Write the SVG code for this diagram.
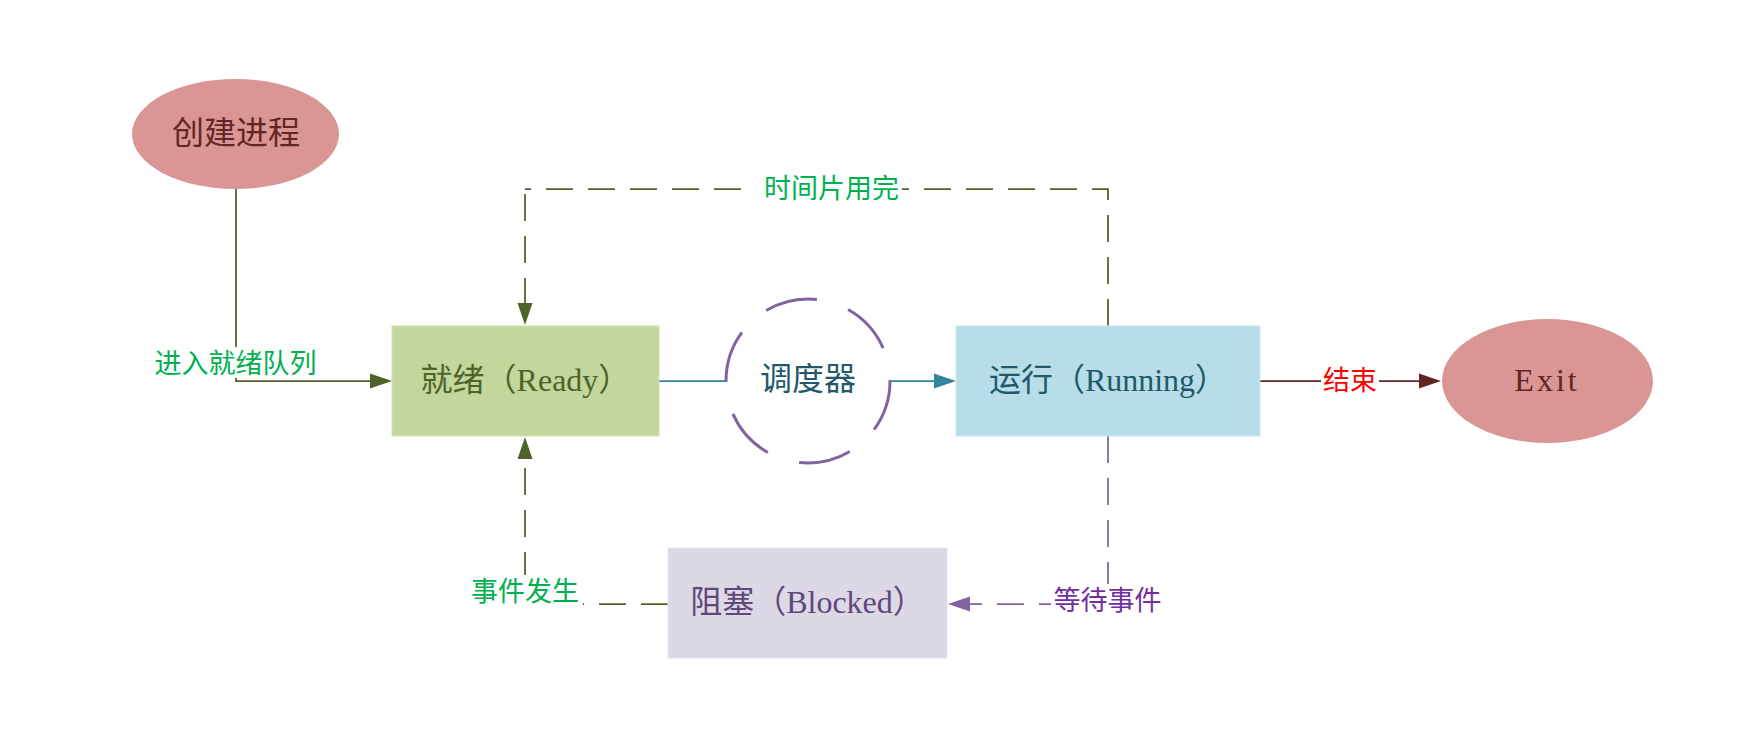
<svg xmlns="http://www.w3.org/2000/svg" width="1743" height="754" viewBox="0 0 1743 754">
<style>
  text { font-family: "Liberation Serif", "Noto Sans CJK SC", serif; }
  .node { font-size: 32px; text-anchor: middle; }
  .lbl { font-size: 27px; text-anchor: middle; }
  .bg { fill: #ffffff; }
  .olive { stroke: #4f6228; }
  .teal { stroke: #31849b; }
  .purple { stroke: #8064a2; }
  .dred { stroke: #632523; }
  .ln { fill: none; stroke-width: 1.75; }
  .dash { stroke-dasharray: 27 15; }
</style>
<defs>
  <marker id="aOlive" markerUnits="userSpaceOnUse" markerWidth="22" markerHeight="16" refX="0" refY="8" orient="auto" overflow="visible">
    <path d="M0,0.5 L22,8 L0,15.5 z" fill="#4f6228"/>
  </marker>
  <marker id="aTeal" markerUnits="userSpaceOnUse" markerWidth="22" markerHeight="16" refX="0" refY="8" orient="auto" overflow="visible">
    <path d="M0,0.5 L22,8 L0,15.5 z" fill="#31849b"/>
  </marker>
  <marker id="aPurple" markerUnits="userSpaceOnUse" markerWidth="22" markerHeight="16" refX="0" refY="8" orient="auto" overflow="visible">
    <path d="M0,0.5 L22,8 L0,15.5 z" fill="#8064a2"/>
  </marker>
  <marker id="aDred" markerUnits="userSpaceOnUse" markerWidth="22" markerHeight="16" refX="0" refY="8" orient="auto" overflow="visible">
    <path d="M0,0.5 L22,8 L0,15.5 z" fill="#632523"/>
  </marker>
</defs>
<rect width="1743" height="754" fill="#ffffff"/>

<g id="connectors">
  <path class="ln olive" d="M236,189 V381 H370" marker-end="url(#aOlive)"/>
  <path class="ln teal" d="M659,381 H726"/>
  <path class="ln teal" d="M891,381 H934" marker-end="url(#aTeal)"/>
  <path class="ln olive dash" d="M1108,326 V189 H525"/>
  <path class="ln olive dash" d="M525,189 V303" stroke-dashoffset="-5" marker-end="url(#aOlive)"/>
  <path class="ln purple dash" d="M1108,436 V604 H970" marker-end="url(#aPurple)"/>
  <path class="ln olive dash" d="M668,604 H525 V459" marker-end="url(#aOlive)"/>
  <path class="ln dred" d="M1260,381 H1419" marker-end="url(#aDred)"/>

  <g id="label-enqueue">
    <rect class="bg" x="150" y="347" width="171" height="31"/>
    <text class="lbl" x="235.5" y="372.5" fill="#00b050">进入就绪队列</text>
  </g>
  <g id="label-timeslice">
    <rect class="bg" x="744" y="175" width="158" height="28"/>
    <text class="lbl" x="831.5" y="197.5" fill="#00b050">时间片用完</text>
  </g>
  <g id="label-event">
    <rect class="bg" x="469" y="575" width="114" height="33"/>
    <text class="lbl" x="525" y="600.5" fill="#00b050">事件发生</text>
  </g>
  <g id="label-wait">
    <rect class="bg" x="1051" y="584" width="116" height="30"/>
    <text class="lbl" x="1107.5" y="609.5" fill="#7030a0">等待事件</text>
  </g>
  <g id="label-end">
    <rect class="bg" x="1321" y="367" width="58" height="28"/>
    <text class="lbl" x="1350" y="390" fill="#ff0000">结束</text>
  </g>
</g>

<g id="node-create">
  <ellipse cx="235.5" cy="134" rx="103.5" ry="55" fill="#d99694"/>
  <text class="node" x="236" y="144" fill="#632523">创建进程</text>
</g>

<g id="node-ready">
  <rect x="392" y="326" width="267" height="110" fill="#c3d69b" stroke="#d2e0b4" stroke-width="1"/>
  <text class="node" x="525.5" y="391" fill="#4f6228">就绪（Ready）</text>
</g>

<g id="node-scheduler">
  <circle cx="808" cy="381" r="82" fill="none" stroke="#8064a2" stroke-width="3" pathLength="360" stroke-dasharray="37 23" stroke-dashoffset="0.7"/>
  <text class="node" x="808" y="390" fill="#215968">调度器</text>
</g>

<g id="node-running">
  <rect x="956" y="326" width="304" height="110" fill="#b7dee8" stroke="#c9e6ee" stroke-width="1"/>
  <text class="node" x="1108" y="391" fill="#215968">运行（Running）</text>
</g>

<g id="node-exit">
  <ellipse cx="1547.5" cy="381" rx="105.5" ry="62" fill="#d99694"/>
  <text class="node" x="1547" y="391" fill="#632523" letter-spacing="3">Exit</text>
</g>

<g id="node-blocked">
  <rect x="668" y="548" width="279" height="110" fill="#ddd8e6" stroke="#e6e2ed" stroke-width="1"/>
  <text class="node" x="807.5" y="613" fill="#5f497a">阻塞（Blocked）</text>
</g>
</svg>
